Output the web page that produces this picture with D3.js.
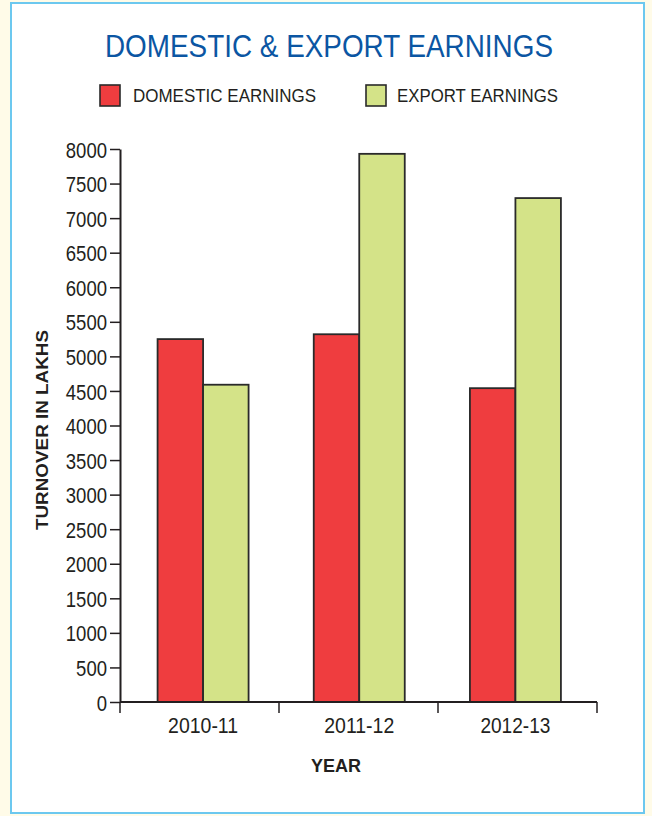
<!DOCTYPE html>
<html>
<head>
<meta charset="utf-8">
<script src="https://cdn.jsdelivr.net/npm/d3@7"></script>
<style>
  html, body { margin: 0; padding: 0; background: #fffbe8; }
  svg { display: block; }
</style>
</head>
<body>
<svg id="chart" width="652" height="816"></svg>
<script>
// Turnover figures (in lakhs) per financial year
const years = ["2010-11", "2011-12", "2012-13"];
const seriesNames = ["DOMESTIC EARNINGS", "EXPORT EARNINGS"];
const domesticEarnings = [5250, 5320, 4540];
const exportEarnings = [4590, 7930, 7290];
const yTicks = [0, 500, 1000, 1500, 2000, 2500, 3000, 3500, 4000, 4500, 5000, 5500, 6000, 6500, 7000, 7500, 8000];
const seriesColors = ["#ef3d3f", "#d4e388"];

const rows = years.map((y, i) => ({ year: y, values: [domesticEarnings[i], exportEarnings[i]] }));

const svg = d3.select("#chart");
const narrow = "'Liberation Sans Narrow', 'Arial Narrow', 'Liberation Sans', Arial, sans-serif";
const sans = "'Liberation Sans', Arial, Helvetica, sans-serif";
const digitWidth = 10.3; // condensed figure width

// panel
svg.append("rect")
  .attr("x", 11).attr("y", 3).attr("width", 633).attr("height", 810)
  .attr("fill", "#ffffff").attr("stroke", "#6cc8ef").attr("stroke-width", 2);

// title
svg.append("text")
  .attr("x", 329).attr("y", 57)
  .attr("text-anchor", "middle")
  .attr("font-family", narrow).attr("font-size", 31)
  .attr("textLength", 448).attr("lengthAdjust", "spacingAndGlyphs")
  .attr("fill", "#0b56a3")
  .text("DOMESTIC & EXPORT EARNINGS");

// legend
const legendItems = [
  { x: 100, textX: 133, textW: 183 },
  { x: 366, textX: 397, textW: 161 }
];
legendItems.forEach((d, i) => {
  svg.append("rect")
    .attr("x", d.x).attr("y", 85).attr("width", 20).attr("height", 21)
    .attr("fill", seriesColors[i]).attr("stroke", "#2a2a2a").attr("stroke-width", 1.6);
  svg.append("text")
    .attr("x", d.textX).attr("y", 102)
    .attr("font-family", narrow).attr("font-size", 18)
    .attr("textLength", d.textW).attr("lengthAdjust", "spacingAndGlyphs")
    .attr("fill", "#231f20")
    .text(seriesNames[i]);
});

// scales
const y = d3.scaleLinear().domain([0, 8000]).range([702, 149]);
const xAxisScale = d3.scaleBand().domain(years).range([120, 597]);
const x = d3.scaleBand().domain(years).range([125, 593.5]);
const groupWidth = 91;
const xSub = d3.scaleBand().domain(d3.range(seriesNames.length)).range([0, groupWidth]);

// bars
const groups = svg.append("g").selectAll("g").data(rows).join("g")
  .attr("transform", d => `translate(${x(d.year) + x.bandwidth() / 2 - groupWidth / 2},0)`);
groups.selectAll("rect").data(d => d.values.map((v, i) => ({ v, i }))).join("rect")
  .attr("x", d => xSub(d.i))
  .attr("y", d => y(d.v))
  .attr("width", xSub.bandwidth())
  .attr("height", d => y(0) - y(d.v))
  .attr("fill", d => seriesColors[d.i])
  .attr("stroke", "#2a2a2a").attr("stroke-width", 1.8);

// y axis
const yAxis = d3.axisLeft(y).tickValues(yTicks).tickFormat(d3.format("d"))
  .tickSize(10).tickPadding(3).tickSizeOuter(0);
const gy = svg.append("g").attr("transform", "translate(120,0)").call(yAxis);
gy.select(".domain").attr("stroke", "#231f20").attr("stroke-width", 2);
gy.selectAll(".tick line").attr("stroke", "#231f20").attr("stroke-width", 1.5);
gy.selectAll(".tick text")
  .attr("font-family", narrow).attr("font-size", 22.5).attr("fill", "#231f20")
  .attr("dy", "0.36em")
  .attr("textLength", d => String(d).length * digitWidth)
  .attr("lengthAdjust", "spacingAndGlyphs");

// x axis: baseline with separators at the band edges
const gx = svg.append("g");
gx.append("line")
  .attr("x1", xAxisScale.range()[0]).attr("x2", xAxisScale.range()[1])
  .attr("y1", y(0)).attr("y2", y(0))
  .attr("stroke", "#231f20").attr("stroke-width", 2);
const edges = years.map(d => xAxisScale(d)).concat([xAxisScale.range()[1]]);
gx.selectAll("line.sep").data(edges).join("line")
  .attr("class", "sep")
  .attr("x1", d => d).attr("x2", d => d)
  .attr("y1", y(0)).attr("y2", y(0) + 11)
  .attr("stroke", "#231f20").attr("stroke-width", 1.5);
gx.selectAll("text").data(years).join("text")
  .attr("x", d => x(d) + x.bandwidth() / 2)
  .attr("y", 733)
  .attr("text-anchor", "middle")
  .attr("font-family", narrow).attr("font-size", 22.5).attr("fill", "#231f20")
  .attr("textLength", 70).attr("lengthAdjust", "spacingAndGlyphs")
  .text(d => d);

// axis titles
svg.append("text")
  .attr("x", 336).attr("y", 772)
  .attr("text-anchor", "middle")
  .attr("font-family", sans).attr("font-weight", "bold").attr("font-size", 19)
  .attr("textLength", 50).attr("lengthAdjust", "spacingAndGlyphs")
  .attr("fill", "#231f20")
  .text("YEAR");

svg.append("text")
  .attr("transform", "translate(48,430) rotate(-90)")
  .attr("text-anchor", "middle")
  .attr("font-family", sans).attr("font-weight", "bold").attr("font-size", 17)
  .attr("textLength", 200).attr("lengthAdjust", "spacingAndGlyphs")
  .attr("fill", "#231f20")
  .text("TURNOVER IN LAKHS");
</script>
</body>
</html>
